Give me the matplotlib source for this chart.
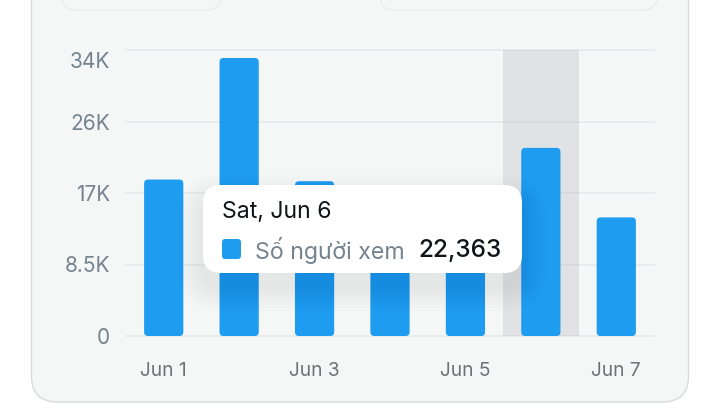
import matplotlib
matplotlib.use('Agg')
import matplotlib.pyplot as plt
from matplotlib.patches import FancyBboxPatch
from matplotlib.transforms import ScaledTranslation

plt.rcParams['font.family'] = ['Inter', 'DejaVu Sans']

# Daten (Jun 4 / Jun 5 liegen hinter dem Tooltip, Werte geschaetzt)
days = ['Jun 1', 'Jun 2', 'Jun 3', 'Jun 4', 'Jun 5', 'Jun 6', 'Jun 7']
viewers = [18600, 33050, 18400, 15500, 13000, 22363, 14100]
y_ticks = [0, 8500, 17000, 25500, 34000]
y_labels = ['0', '8.5K', '17K', '26K', '34K']
x_labels = ['Jun 1', '', 'Jun 3', '', 'Jun 5', '', 'Jun 7']
highlight_idx = 5

WIDTH, HEIGHT = 720, 418
BLUE = '#1E9CF0'
CARD = '#F5F7F7'
GRID = '#E9ECEE'


def rounded(ax, x0, y0, x1, y1, r, **kw):
    box = FancyBboxPatch((x0, y0), x1 - x0, y1 - y0,
                         boxstyle=f'round,pad=0,rounding_size={r}', **kw)
    ax.add_patch(box)
    return box


fig = plt.figure(figsize=(WIDTH / 100, HEIGHT / 100), dpi=100, facecolor='white')

# Hintergrund: Karte und die beiden Felder oben, in Pixelkoordinaten
bg = fig.add_axes([0, 0, 1, 1], zorder=0)
bg.set_xlim(0, WIDTH)
bg.set_ylim(HEIGHT, 0)
bg.axis('off')
rounded(bg, 31.5, -60, 688.5, 402, 26, facecolor=CARD, edgecolor='#D6DBDE', linewidth=1)
rounded(bg, 62, -40, 221, 10, 14, facecolor=CARD, edgecolor=GRID, linewidth=1)
rounded(bg, 380, -40, 657, 10, 14, facecolor=CARD, edgecolor=GRID, linewidth=1)

# Balkendiagramm
left, right, top, bottom = 126, 654, 50, 336
ax = fig.add_axes([left / WIDTH, (HEIGHT - bottom) / HEIGHT,
                   (right - left) / WIDTH, (bottom - top) / HEIGHT], zorder=1)
ax.patch.set_alpha(0)
ax.set_xlim(-0.5, 6.5)
ax.set_ylim(0, 34000)
for side in ax.spines.values():
    side.set_visible(False)

ax.set_axisbelow(True)
ax.grid(axis='y', color=GRID, linewidth=1.4, clip_on=False)
ax.axvspan(highlight_idx - 0.5, highlight_idx + 0.5, color='#0F1429', alpha=0.09,
           linewidth=0, zorder=1.5)

# Runde Ecken: Radius in Pixeln, mutation_aspect gleicht die Achsen aus
x_per_px = 7 / (right - left)
y_per_px = 34000 / (bottom - top)
bar_w = 0.52
for i, v in enumerate(viewers):
    ax.add_patch(FancyBboxPatch((i - bar_w / 2, 0), bar_w, v,
                                boxstyle=f'round,pad=0,rounding_size={4 * x_per_px}',
                                mutation_aspect=y_per_px / x_per_px,
                                facecolor=BLUE, edgecolor='none', zorder=2))

ax.set_yticks(y_ticks, y_labels)
ax.set_xticks(range(len(days)), x_labels)
ax.tick_params(axis='y', length=0, pad=11.5, labelsize=15, labelcolor='#74838F')
ax.tick_params(axis='x', length=0, pad=19, labelsize=13.8, labelcolor='#6E7274')

# Oberstes Label sitzt unterhalb seiner Gitterlinie
top_label = ax.get_yticklabels()[-1]
top_label.set_va('top')
top_label.set_transform(top_label.get_transform()
                        + ScaledTranslation(0, -2 / 100, fig.dpi_scale_trans))

# Tooltip mit weichem Schatten
ov = fig.add_axes([0, 0, 1, 1], zorder=2)
ov.patch.set_alpha(0)
ov.set_xlim(0, WIDTH)
ov.set_ylim(HEIGHT, 0)
ov.axis('off')
for grow in range(24, 0, -3):
    rounded(ov, 203 - grow, 185 - grow + 14, 522 + grow, 273 + grow + 14, 18 + grow,
            facecolor='black', edgecolor='none', alpha=0.006)
rounded(ov, 203, 185, 522, 273, 18, facecolor='white', edgecolor='none')
rounded(ov, 222, 239, 241, 259, 3, facecolor=BLUE, edgecolor='none')
ov.text(222, 212.5, 'Sat, Jun 6', fontsize=16.6, color='#0F1419', va='center', ha='left')
ov.text(255, 250, 'Số người xem', fontsize=16.7, color='#74838F', va='center', ha='left')
ov.text(502, 250.5, '22,363', fontsize=17.5, color='#0F1419', va='center', ha='right',
        fontweight='medium')

fig.savefig('out.png', dpi=100, facecolor='white')
